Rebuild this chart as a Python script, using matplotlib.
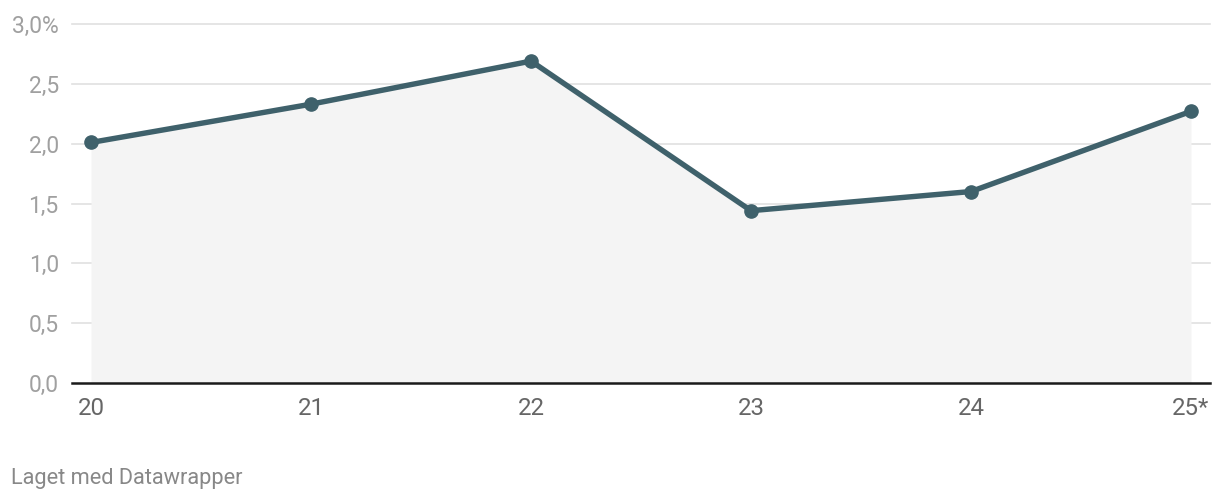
import matplotlib.pyplot as plt

plt.rcParams['font.family'] = ['Roboto', 'DejaVu Sans']

# data
years = ['20', '21', '22', '23', '24', '25*']
values = [2.01, 2.33, 2.69, 1.44, 1.60, 2.27]
y_ticks = [0, 0.5, 1.0, 1.5, 2.0, 2.5, 3.0]
y_labels = ['0,0', '0,5', '1,0', '1,5', '2,0', '2,5', '3,0%']

line_col = '#3f616b'

fig = plt.figure(figsize=(12.2, 5), dpi=100)
ax = fig.add_axes([72 / 1220, 117 / 500, 1138 / 1220, 359 / 500])

x = range(len(years))
ax.fill_between(x, values, 0, color='#f4f4f4', lw=0, zorder=1)
ax.plot(x, values, color=line_col, lw=3.9, marker='o', markersize=9.5,
        solid_capstyle='round', zorder=3)

ax.set_xlim(-0.0865, 5.0865)
ax.set_ylim(0, 3.0)
ax.set_yticks(y_ticks)
ax.set_yticklabels(y_labels)
ax.set_xticks(list(x))
ax.set_xticklabels(years)

for t in y_ticks[1:]:
    ax.axhline(t, color='#e0e0e0', lw=1.2, zorder=0, clip_on=False)
ax.axhline(0, color='#1a1a1a', lw=1.8, zorder=4, clip_on=False)

for s in ax.spines.values():
    s.set_visible(False)
ax.tick_params(axis='y', length=0, pad=9.5, labelsize=16.5, labelcolor='#a0a0a0')
ax.tick_params(axis='x', length=0, pad=10, labelsize=17.3, labelcolor='#666666')

fig.text(11 / 1220, 16 / 500, 'Laget med Datawrapper', fontsize=15.7,
         color='#888888', ha='left', va='baseline')

fig.savefig('out.png', dpi=100, facecolor='white')
